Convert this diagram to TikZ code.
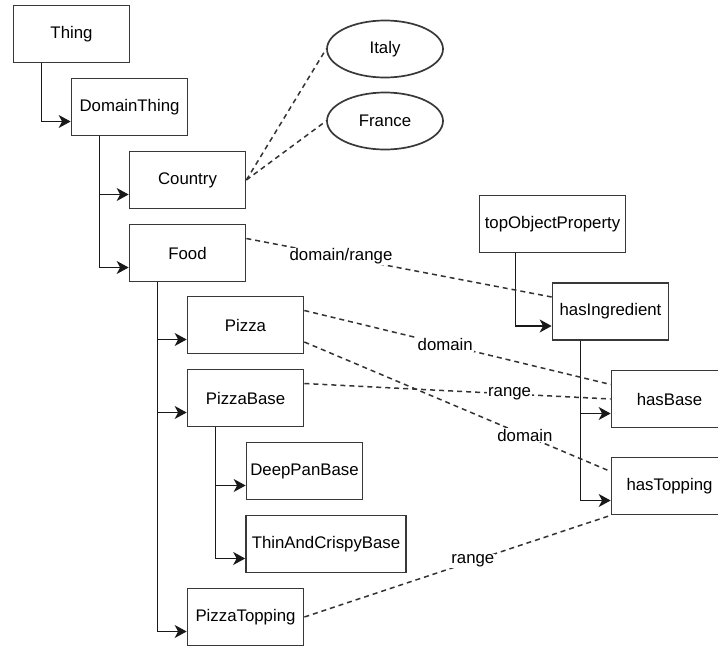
\documentclass[tikz,border=0pt]{standalone}
\usepackage{fontspec}
\setmainfont{Liberation Sans}
\usetikzlibrary{arrows.meta,shapes.geometric}
\tikzset{
  cls/.style={draw=black!78, line width=1.7pt, minimum width=116pt, minimum height=57pt,
    inner sep=0pt, font=\fontsize{16.8}{20}\selectfont},
  inst/.style={cls, ellipse},
  isa/.style={draw=black!90, line width=1.6pt, -{Stealth[length=12pt,width=13pt,inset=3.5pt]}},
  rel/.style={draw=black!80, line width=1.5pt, dash pattern=on 5pt off 4pt},
  lbl/.style={fill=white, inner sep=1pt, font=\fontsize{16.8}{20}\selectfont}
}
\begin{document}
\begin{tikzpicture}[x=1pt,y=-1pt]
  \useasboundingbox (0,0) rectangle (718,648);
  % class tree
  \node[cls] (thing)      at (71.5,34)  {Thing};
  \node[cls] (domthing)   at (129.5,107) {DomainThing};
  \node[cls] (country)    at (187.5,180) {Country};
  \node[cls] (food)       at (187.5,253) {Food};
  \node[cls] (pizza)      at (245.5,325) {Pizza};
  \node[cls] (pizzabase)  at (245.5,398) {PizzaBase};
  \node[cls] (deeppan)    at (304.5,471) {DeepPanBase};
  \node[cls, minimum width=160pt] (thincrispy) at (326,544) {ThinAndCrispyBase};
  \node[cls] (pizzatop)   at (245.5,617) {PizzaTopping};
  % individuals
  \node[inst] (italy)  at (385,49)  {Italy};
  \node[inst] (france) at (385,121) {France};
  % properties
  \node[cls, minimum width=146pt] (topprop) at (552.5,224) {topObjectProperty};
  \node[cls] (hasingr) at (610.5,311.5) {hasIngredient};
  \node[cls] (hasbase) at (669.5,399)   {hasBase};
  \node[cls] (hastop)  at (669.5,486)   {hasTopping};

  \draw[isa] ([xshift=29pt]thing.south west) |- ([yshift=-14.5pt]domthing.west);
  \draw[isa] ([xshift=29pt]domthing.south west) |- ([yshift=-14.5pt]country.west);
  \draw[isa] ([xshift=29pt]domthing.south west) |- ([yshift=-14.5pt]food.west);
  \draw[isa] ([xshift=29pt]food.south west) |- ([yshift=-14.5pt]pizza.west);
  \draw[isa] ([xshift=29pt]food.south west) |- ([yshift=-14.5pt]pizzabase.west);
  \draw[isa] ([xshift=29pt]food.south west) |- ([yshift=-14.5pt]pizzatop.west);
  \draw[isa] ([xshift=29pt]pizzabase.south west) |- ([yshift=-14.5pt]deeppan.west);
  \draw[isa] ([xshift=29pt]pizzabase.south west) |- ([yshift=-14.5pt]thincrispy.west);
  \draw[isa] ([xshift=37pt]topprop.south west) |- ([yshift=-14.5pt]hasingr.west);
  \draw[isa] ([xshift=29pt]hasingr.south west) |- ([yshift=-14.5pt]hasbase.west);
  \draw[isa] ([xshift=29pt]hasingr.south west) |- ([yshift=-14.5pt]hastop.west);

  \draw[rel] (country.east) -- (italy.west);
  \draw[rel] (country.east) -- (france.west);
  \draw[rel] ([yshift=14.5pt]food.east) -- ([yshift=14.5pt]hasingr.west)
    node[lbl, pos=0.31] {domain/range};
  \draw[rel] ([yshift=14.5pt]pizza.east) -- ([yshift=14.5pt]hasbase.west)
    node[lbl, pos=0.46] {domain};
  \draw[rel] ([yshift=-17pt]pizza.east) -- ([yshift=14.5pt]hastop.west)
    node[lbl, pos=0.72] {domain};
  \draw[rel] ([yshift=14.5pt]pizzabase.east) -- (hasbase.west)
    node[lbl, pos=0.67] {range};
  \draw[rel] (pizzatop.east) -- (hastop.south west)
    node[lbl, pos=0.55] {range};
\end{tikzpicture}
\end{document}
